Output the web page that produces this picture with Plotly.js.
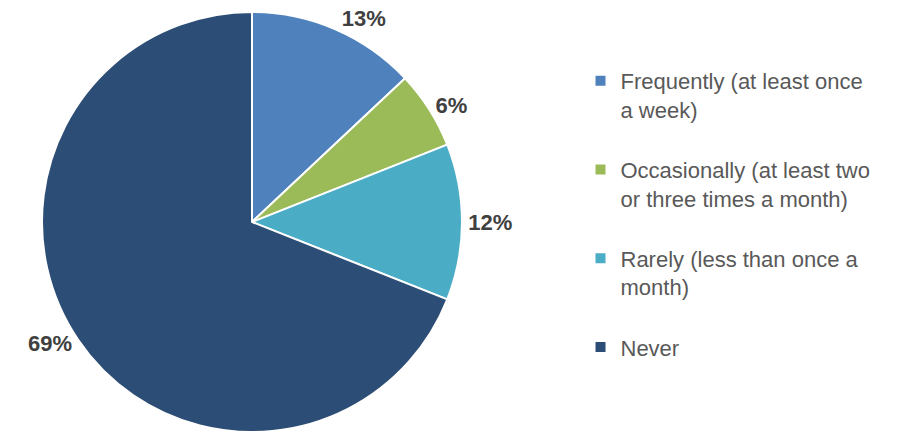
<!DOCTYPE html>
<html>
<head>
<meta charset="utf-8">
<script src="https://cdn.plot.ly/plotly-3.0.1.min.js"></script>
<style>html,body{margin:0;padding:0;background:#fff;}#chart{width:900px;height:432px;}</style>
</head>
<body>
<div id="chart"></div>
<script>
var categories = [
  "Frequently (at least once<br>a week)",
  "Occasionally (at least two<br>or three times a month)",
  "Rarely (less than once a<br>month)",
  "Never"
];
var values = [13, 6, 12, 69];
var colors = ["#4F81BD", "#9BBB59", "#4BACC6", "#2C4D75"];

var trace = {
  type: "pie",
  labels: categories.map(function (c) { return c + "<br> "; }),
  values: values,
  sort: false,
  direction: "clockwise",
  rotation: 0,
  marker: { colors: colors, line: { color: "#ffffff", width: 2 } },
  texttemplate: "%{value}%",
  textposition: "outside",
  outsidetextfont: { family: "Liberation Sans, Arial, sans-serif", size: 22, color: "#404040", weight: "bold" },
  hoverinfo: "label+percent",
  domain: { x: [41 / 900, 463 / 900], y: [0, 420 / 432] }
};

var layout = {
  width: 900,
  height: 432,
  margin: { l: 0, r: 0, t: 0, b: 0 },
  paper_bgcolor: "#ffffff",
  showlegend: true,
  legend: {
    x: 0.645, xanchor: "left",
    y: 0.8615, yanchor: "top",
    valign: "top",
    font: { family: "Liberation Sans, Arial, sans-serif", size: 22, color: "#595959" },
    bgcolor: "rgba(0,0,0,0)"
  },
  font: { family: "Liberation Sans, Arial, sans-serif" }
};

Plotly.newPlot("chart", [trace], layout, { displayModeBar: false, staticPlot: true });
</script>
</body>
</html>
